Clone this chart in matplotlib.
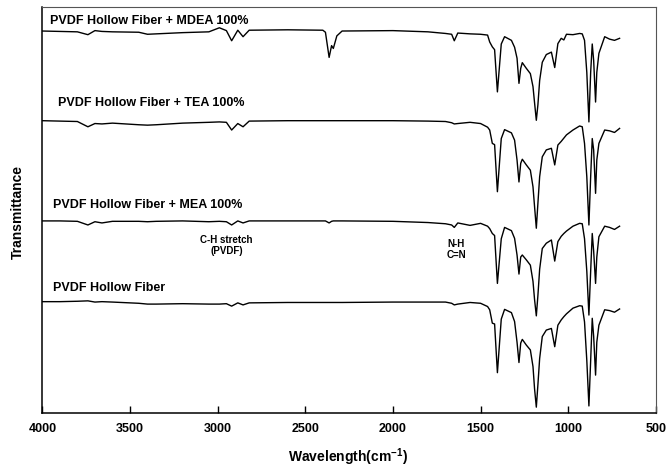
import numpy as np
import matplotlib
matplotlib.use("Agg")
import matplotlib.pyplot as plt

plt.rcParams['font.family'] = ['Liberation Sans', 'DejaVu Sans']
plt.rcParams['mathtext.fontset'] = 'custom'
plt.rcParams['mathtext.bf'] = 'Liberation Sans:bold'
plt.rcParams['mathtext.rm'] = 'Liberation Sans:bold'

# wavenumber grid (cm-1), shared by all four spectra
wavenumber = [4000, 3900, 3800, 3740, 3700, 3660, 3600, 3450, 3400, 3350,
              3200, 3050, 2990, 2950, 2920, 2885, 2855, 2820, 2600, 2400,
              2385, 2364, 2350, 2340, 2320, 2290, 2000, 1800, 1700, 1665,
              1650, 1630, 1560, 1500, 1460, 1448, 1433, 1420, 1404, 1382,
              1363, 1324, 1306, 1292, 1281, 1271, 1262, 1239, 1216, 1201,
              1192, 1182, 1173, 1163, 1148, 1125, 1096, 1077, 1059, 1040,
              1025, 1010, 973, 935, 920, 907, 894, 882, 872, 863,
              855, 844, 837, 825, 792, 764, 736, 707]

# stacked transmittance (arbitrary units, already offset)
t_mdea = [94.2, 94.1, 94.0, 93.3, 94.3, 94.1, 94.0, 93.9, 93.4, 93.5,
          93.8, 94.0, 95.0, 94.3, 91.8, 94.4, 92.8, 94.4, 94.5, 94.4,
          93.9, 87.7, 90.6, 89.9, 93.0, 94.2, 94.3, 94.0, 93.6, 93.4,
          91.8, 93.7, 93.5, 93.4, 93.2, 91.5, 90.3, 89.6, 79.2, 91.0,
          92.8, 91.9, 90.2, 87.5, 81.3, 85.0, 86.4, 85.0, 83.7, 80.5,
          76.5, 72.2, 76.0, 82.0, 86.5, 88.4, 89.0, 85.2, 91.1, 92.4,
          92.0, 93.4, 93.3, 93.6, 93.5, 91.9, 84.0, 71.8, 84.0, 91.0,
          87.0, 76.7, 84.0, 88.7, 92.8, 92.2, 91.9, 92.4]

t_tea = [72.1, 72.0, 71.9, 70.6, 71.4, 71.3, 71.5, 71.1, 71.0, 71.1,
         71.5, 71.7, 71.8, 71.7, 69.8, 71.4, 70.6, 72.0, 72.1, 72.1,
         72.1, 72.1, 72.1, 72.1, 72.1, 72.1, 72.1, 72.0, 71.9, 71.6,
         71.3, 71.4, 71.7, 71.4, 70.5, 69.8, 66.5, 66.2, 54.6, 67.7,
         69.9, 69.1, 67.3, 62.4, 57.0, 61.6, 62.6, 61.2, 59.9, 55.8,
         50.9, 45.6, 51.7, 58.3, 63.2, 64.9, 65.3, 61.2, 66.1, 67.0,
         67.8, 68.6, 69.8, 70.8, 70.6, 66.5, 58.3, 46.4, 58.3, 67.7,
         64.9, 54.2, 62.4, 66.5, 69.8, 69.6, 69.2, 70.2]

t_mea = [47.4, 47.4, 47.3, 46.4, 47.2, 46.9, 47.3, 47.3, 47.2, 47.3,
         47.4, 47.2, 47.3, 47.2, 46.4, 47.4, 46.9, 47.4, 47.4, 47.4,
         47.4, 46.9, 47.3, 47.4, 47.4, 47.4, 47.3, 47.0, 46.7, 46.4,
         45.8, 46.9, 46.3, 46.8, 46.1, 45.5, 44.3, 43.8, 32.0, 43.0,
         45.8, 45.0, 43.1, 39.0, 34.3, 38.5, 39.0, 37.8, 36.5, 32.5,
         28.0, 24.0, 29.0, 35.5, 40.6, 41.9, 42.7, 37.5, 42.3, 43.6,
         44.3, 44.9, 46.1, 46.8, 46.7, 43.0, 35.0, 24.2, 35.0, 44.3,
         40.0, 32.0, 38.5, 43.5, 46.1, 45.8, 45.3, 46.1]

t_pvdf = [27.5, 27.5, 27.6, 27.7, 27.4, 27.5, 27.4, 27.1, 26.9, 26.9,
          27.0, 26.9, 26.9, 27.0, 26.4, 27.2, 26.7, 27.2, 27.3, 27.3,
          27.3, 27.3, 27.3, 27.3, 27.3, 27.3, 27.4, 27.4, 27.4, 27.1,
          26.7, 26.9, 27.3, 27.1, 26.3, 25.5, 22.2, 22.0, 10.0, 23.2,
          25.6, 24.8, 22.6, 17.5, 12.5, 17.3, 18.2, 16.8, 15.6, 11.5,
          6.0, 1.5, 7.0, 13.5, 18.9, 20.5, 20.9, 16.4, 21.7, 23.0,
          23.8, 24.5, 25.9, 26.5, 26.4, 22.5, 13.0, 1.8, 13.0, 23.4,
          19.0, 9.4, 17.5, 21.7, 25.5, 25.3, 24.9, 25.7]

series_labels = ['PVDF Hollow Fiber + MDEA 100%', 'PVDF Hollow Fiber + TEA 100%',
                 'PVDF Hollow Fiber + MEA 100%', 'PVDF Hollow Fiber']
x_ticks = [4000, 3500, 3000, 2500, 2000, 1500, 1000, 500]


fig = plt.figure(figsize=(6.72, 4.68), dpi=100)
ax = fig.add_axes([0.063, 0.117, 0.913, 0.867])

for vals in (t_mdea, t_tea, t_mea, t_pvdf):
    ax.plot(wavenumber, vals, color='black', lw=1.0)

ax.set_xlim(4000, 500)
ax.set_ylim(0, 100)
ax.set_xticks(x_ticks)
ax.set_xticklabels([str(t) for t in x_ticks], fontsize=9, fontweight='bold')
ax.tick_params(axis='x', direction='in', length=5, width=1, pad=7)
ax.set_yticks([])

for side in ('left', 'bottom'):
    ax.spines[side].set_linewidth(1.1)
for side in ('top', 'right'):
    ax.spines[side].set_linewidth(0.8)
    ax.spines[side].set_color('#555555')

# trace labels
ax.text(3956, 96.7, series_labels[0], fontsize=9, fontweight='bold', va='center')
ax.text(3909, 76.5, series_labels[1], fontsize=9, fontweight='bold', va='center')
ax.text(3937, 51.3, series_labels[2], fontsize=9, fontweight='bold', va='center')
ax.text(3937, 30.8, series_labels[3], fontsize=9, fontweight='bold', va='center')

# peak annotations
ax.text(2949, 41.4, 'C-H stretch\n(PVDF)', fontsize=7, fontweight='bold',
        ha='center', va='center', linespacing=1.1)
ax.text(1638, 40.3, 'N-H\nC=N', fontsize=7, fontweight='bold',
        ha='center', va='center', linespacing=1.1)

fig.text(0.518, 0.024, r'Wavelength(cm$^{\mathbf{-1}}$)', fontsize=10,
         fontweight='bold', ha='center', va='center')
fig.text(0.026, 0.548, 'Transmittance', fontsize=10, fontweight='bold',
         rotation=90, ha='center', va='center')

fig.savefig('out.png', dpi=100)
